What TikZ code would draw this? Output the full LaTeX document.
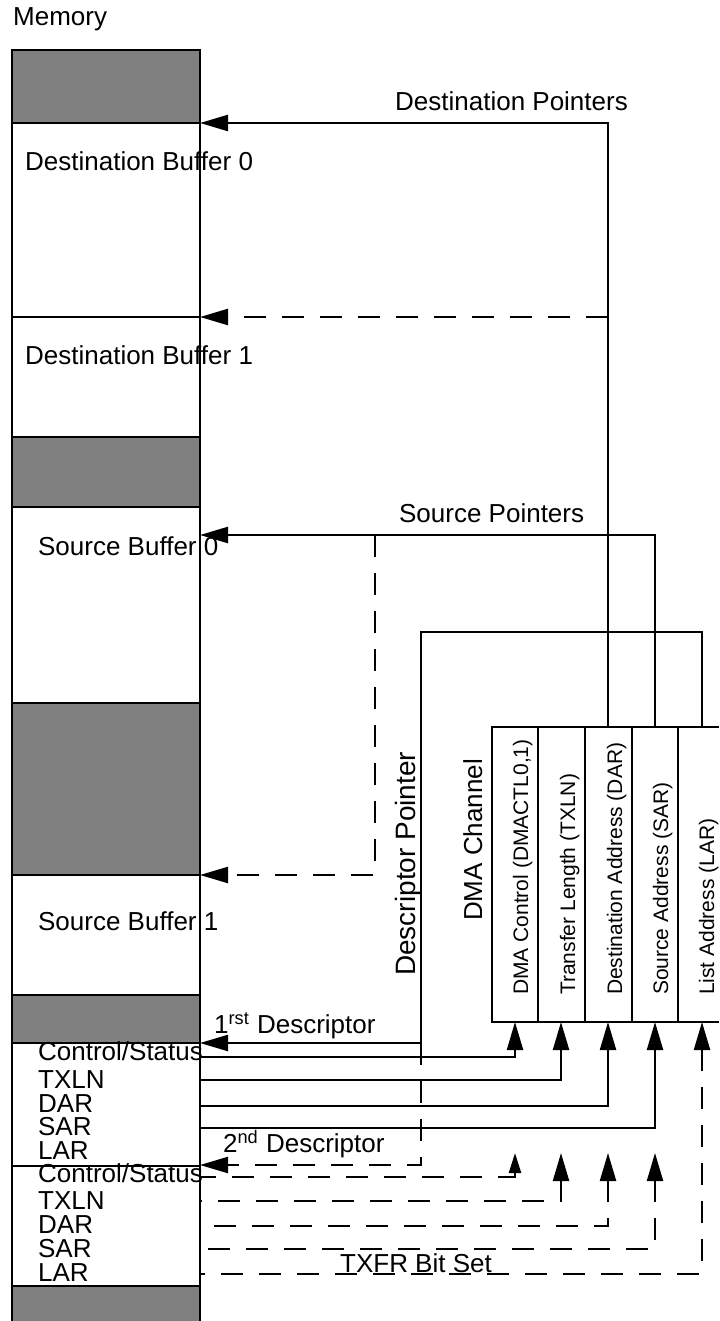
\documentclass[tikz,border=0pt]{standalone}
\usepackage{fontspec}
\setmainfont{Liberation Sans}
\usetikzlibrary{arrows.meta, calc, positioning}

\begin{document}
\begin{tikzpicture}[x=0.5pt, y=-0.5pt, line width=1.15pt,
    every node/.style={font=\fontsize{13}{15}\selectfont, inner sep=0pt},
    lbl/.style={anchor=base west},
    reg/.style={font=\fontsize{10.5}{12}\selectfont, rotate=90, anchor=base west},
    ptr/.style={-{Triangle[length=14pt,width=8pt]}},
    nextptr/.style={ptr, dash pattern=on 11pt off 8pt},
    backptr/.style={{Triangle[length=14pt,width=8pt]}-, dash pattern=on 11pt off 8pt}]
  \useasboundingbox (0,0) rectangle (719,1321);
  \def\mL{12}
  \def\mR{200}

  % Memory map
  \foreach \a/\b in {50/123, 437/507, 703/875, 995/1043, 1286/1321}
    \fill[gray] (\mL,\a) rectangle (\mR,\b);
  \foreach \y in {50,123,317,437,507,703,875,995,1043,1166,1286}
    \draw (\mL,\y) -- (\mR,\y);
  \draw (\mL,1321) -- (\mL,50) -- (\mR,50) -- (\mR,1321);
  \node[lbl] (mem) at (12,26) {Memory};
  \node[lbl] (dbuf0) at (24,171) {Destination Buffer 0};
  \node[lbl] (dbuf1) at (24,364) {Destination Buffer 1};
  \node[lbl] (sbuf0) at (37,555) {Source Buffer 0};
  \node[lbl] (sbuf1) at (37,930) {Source Buffer 1};
  % descriptor fields
  \foreach \y/\txt in {1060/{Control/Status}, 1088/TXLN, 1112/DAR, 1135/SAR, 1159/LAR}
    \node[lbl] at (37,\y) {\txt};
  \foreach \y/\txt in {1182/{Control/Status}, 1209/TXLN, 1233/DAR, 1257/SAR, 1281/LAR}
    \node[lbl] at (37,\y) {\txt};

  % DMA channel registers
  \draw (719,727) -- (492,727) -- (492,1022) -- (719,1022);
  \foreach \x in {538,585,632,678}
    \draw (\x,727) -- (\x,1022);
  \node[reg] (ctlreg) at (528,996) {DMA Control (DMACTL0,1)};
  \node[reg] (txlnreg) at (575,996) {Transfer Length (TXLN)};
  \node[reg] (darreg) at (622,996) {Destination Address (DAR)};
  \node[reg] (sarreg) at (668,996) {Source Address (SAR)};
  \node[reg] (larreg) at (714,996) {List Address (LAR)};
  \node[reg, font=\fontsize{13}{15}\selectfont] (chan) at (482,922) {DMA Channel};
  \node[reg, font=\fontsize{14}{16}\selectfont] (dptr) at (415,977) {Descriptor Pointer};

  \coordinate (ctl) at (515,1022);
  \coordinate (txln) at (561,1022);
  \coordinate (dar) at (608,1022);
  \coordinate (sar) at (655,1022);
  \coordinate (lar) at (702,1022);
  \coordinate (dartop) at (608,727);
  \coordinate (sartop) at (655,727);
  \coordinate (lartop) at (702,727);

  % pointers into memory
  \coordinate (dst0) at (\mR,123);
  \coordinate (dst1) at (\mR,317);
  \coordinate (src0) at (\mR,535);
  \coordinate (src1) at (\mR,875);
  \coordinate (desc1) at (\mR,1043);
  \coordinate (desc2) at (\mR,1165);

  \draw[ptr] (dartop) |- (dst0);
  \draw[nextptr] (608,317) -- (dst1);
  \node[lbl] (dstlbl) at (394,111) {Destination Pointers};

  \draw[ptr] (sartop) |- (src0);
  \draw[nextptr] (375,535) |- (src1);
  \node[lbl] (srclbl) at (398,522) {Source Pointers};

  \draw[ptr] (lartop) |- (421,632) |- (desc1);
  \draw[nextptr] (421,1043) |- (desc2);
  \node[lbl] (first) at (213,1033) {1\textsuperscript{rst} Descriptor};
  \node[lbl] (second) at (222,1152) {2\textsuperscript{nd} Descriptor};

  % 1st descriptor loads the channel
  \foreach \y/\reg in {1057/ctl, 1080/txln, 1106/dar, 1128/sar}
    \draw[ptr] (\mR,\y) -| (\reg);

  % 2nd descriptor, loaded when TXFR is set
  \draw[backptr, {Triangle[length=10pt,width=6pt]}-] (515,1153) |- (\mR,1177);
  \foreach \y/\x in {1201/561, 1226/608, 1249/655}
    \draw[backptr] (\x,1153) |- (\mR,\y);
  \draw[backptr] (lar) |- (\mR,1274);
  \node[lbl] (txfr) at (339,1272) {TXFR Bit Set};
\end{tikzpicture}
\end{document}
